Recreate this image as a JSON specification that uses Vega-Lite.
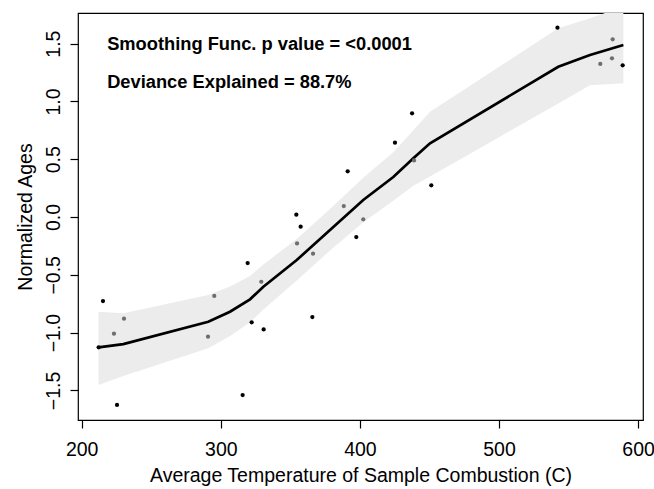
{
  "$schema": "https://vega.github.io/schema/vega-lite/v6.json",
  "autosize": {"type": "none"},
  "padding": {"left": 78, "top": 13, "right": 11, "bottom": 69},
  "width": 565,
  "height": 407,
  "background": "white",
  "config": {
    "view": {"stroke": "#000000", "strokeWidth": 1.2},
    "font": "Liberation Sans",
    "axis": {
      "grid": false,
      "domain": false,
      "tickColor": "#000000",
      "tickWidth": 1.2,
      "tickSize": 8,
      "labelColor": "#000000",
      "labelFont": "Liberation Sans",
      "labelFontSize": 19.5,
      "titleFont": "Liberation Sans",
      "titleFontSize": 19.5,
      "titleFontWeight": "normal",
      "titleColor": "#000000"
    }
  },
  "datasets": {
    "pts": [
      {"temp": 212.2, "age": -1.127, "group": "black"},
      {"temp": 215.3, "age": -0.727, "group": "black"},
      {"temp": 225.4, "age": -1.626, "group": "black"},
      {"temp": 315.7, "age": -1.54, "group": "black"},
      {"temp": 319.3, "age": -0.398, "group": "black"},
      {"temp": 322.2, "age": -0.911, "group": "black"},
      {"temp": 330.8, "age": -0.972, "group": "black"},
      {"temp": 354.3, "age": 0.02, "group": "black"},
      {"temp": 357.4, "age": -0.084, "group": "black"},
      {"temp": 365.8, "age": -0.865, "group": "black"},
      {"temp": 391.2, "age": 0.395, "group": "black"},
      {"temp": 397.4, "age": -0.173, "group": "black"},
      {"temp": 425.2, "age": 0.643, "group": "black"},
      {"temp": 437.5, "age": 0.897, "group": "black"},
      {"temp": 451.3, "age": 0.274, "group": "black"},
      {"temp": 542.0, "age": 1.638, "group": "black"},
      {"temp": 588.9, "age": 1.312, "group": "black"},
      {"temp": 223.2, "age": -1.009, "group": "grey"},
      {"temp": 230.4, "age": -0.88, "group": "grey"},
      {"temp": 290.8, "age": -1.035, "group": "grey"},
      {"temp": 295.3, "age": -0.683, "group": "grey"},
      {"temp": 329.1, "age": -0.56, "group": "grey"},
      {"temp": 354.8, "age": -0.228, "group": "grey"},
      {"temp": 366.3, "age": -0.317, "group": "grey"},
      {"temp": 388.4, "age": 0.095, "group": "grey"},
      {"temp": 402.4, "age": -0.02, "group": "grey"},
      {"temp": 438.9, "age": 0.49, "group": "grey"},
      {"temp": 572.8, "age": 1.324, "group": "grey"},
      {"temp": 581.2, "age": 1.373, "group": "grey"},
      {"temp": 581.7, "age": 1.537, "group": "grey"}
    ],
    "fit": [
      {"temp": 212.1, "fit": -1.127, "lo": -1.453, "hi": -0.819},
      {"temp": 229.9, "fit": -1.099, "lo": -1.375, "hi": -0.833},
      {"temp": 291.0, "fit": -0.906, "lo": -1.136, "hi": -0.675},
      {"temp": 306.6, "fit": -0.819, "lo": -1.03, "hi": -0.6},
      {"temp": 321.0, "fit": -0.712, "lo": -0.91, "hi": -0.51},
      {"temp": 330.6, "fit": -0.603, "lo": -0.8, "hi": -0.41},
      {"temp": 354.6, "fit": -0.372, "lo": -0.55, "hi": -0.19},
      {"temp": 378.5, "fit": -0.112, "lo": -0.29, "hi": 0.07},
      {"temp": 402.4, "fit": 0.147, "lo": -0.045, "hi": 0.34},
      {"temp": 424.0, "fit": 0.346, "lo": 0.14, "hi": 0.56},
      {"temp": 438.4, "fit": 0.508, "lo": 0.27, "hi": 0.75},
      {"temp": 450.4, "fit": 0.638, "lo": 0.35, "hi": 0.91},
      {"temp": 542.6, "fit": 1.3, "lo": 0.983, "hi": 1.632},
      {"temp": 565.4, "fit": 1.401, "lo": 1.14, "hi": 1.72},
      {"temp": 589.4, "fit": 1.488, "lo": 1.157, "hi": 1.82}
    ]
  },
  "layer": [
    {
      "data": {"name": "fit"},
      "mark": {"type": "area", "color": "#ececec", "clip": true},
      "encoding": {
        "x": {"field": "temp", "type": "quantitative", "scale": {"domain": [197.34, 603.5], "nice": false, "zero": false},
              "axis": {"values": [200, 300, 400, 500, 600], "labelPadding": 12, "title": "Average Temperature of Sample Combustion (C)", "titlePadding": 8}},
        "y": {"field": "lo", "type": "quantitative", "scale": {"domain": [-1.756, 1.765], "nice": false, "zero": false},
              "axis": {"values": [-1.5, -1, -0.5, 0, 0.5, 1, 1.5], "labelAngle": 270, "labelAlign": "center", "labelBaseline": "alphabetic", "labelPadding": 11,
                       "labelExpr": "replace(format(datum.value, '.1f'), '-', '\u2212')", "title": "Normalized Ages", "titlePadding": 8}},
        "y2": {"field": "hi"}
      }
    },
    {
      "data": {"name": "fit"},
      "mark": {"type": "line", "color": "#000000", "strokeWidth": 2.7, "clip": true},
      "encoding": {
        "x": {"field": "temp", "type": "quantitative"},
        "y": {"field": "fit", "type": "quantitative"}
      }
    },
    {
      "data": {"name": "pts"},
      "mark": {"type": "point", "filled": true, "opacity": 1, "size": 18, "shape": "circle"},
      "encoding": {
        "x": {"field": "temp", "type": "quantitative"},
        "y": {"field": "age", "type": "quantitative"},
        "color": {"field": "group", "type": "nominal", "scale": {"domain": ["black", "grey"], "range": ["#000000", "#6e6e6e"]}, "legend": null}
      }
    },
    {
      "data": {"values": [{"label": "Smoothing Func. p value = <0.0001"}]},
      "mark": {"type": "text", "align": "left", "baseline": "alphabetic", "fontWeight": "bold", "fontSize": 18.3, "color": "#000000", "font": "Liberation Sans"},
      "encoding": {
        "x": {"datum": 218.3, "type": "quantitative"},
        "y": {"datum": 1.445, "type": "quantitative"},
        "text": {"field": "label"}
      }
    },
    {
      "data": {"values": [{"label": "Deviance Explained = 88.7%"}]},
      "mark": {"type": "text", "align": "left", "baseline": "alphabetic", "fontWeight": "bold", "fontSize": 18.3, "color": "#000000", "font": "Liberation Sans"},
      "encoding": {
        "x": {"datum": 218.3, "type": "quantitative"},
        "y": {"datum": 1.113, "type": "quantitative"},
        "text": {"field": "label"}
      }
    }
  ]
}
